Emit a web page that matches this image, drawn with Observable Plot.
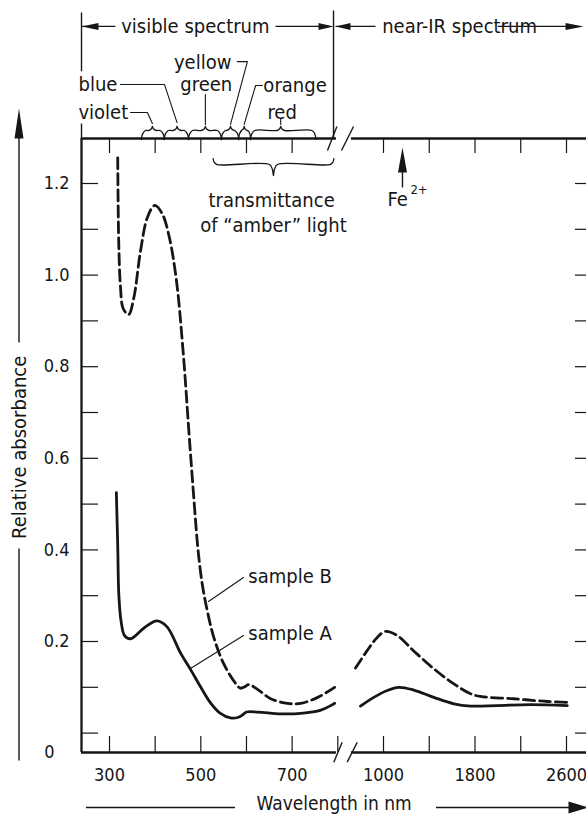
<!DOCTYPE html>
<html><head><meta charset="utf-8">
<script src="https://cdn.jsdelivr.net/npm/d3@7"></script>
<script src="https://cdn.jsdelivr.net/npm/@observablehq/plot@0.6"></script>
<style>
html,body{margin:0;padding:0;background:#fff;}
#chart{position:relative;width:586px;height:815px;overflow:hidden;background:#fff;}
#chart svg{position:absolute;left:0;top:0;}
</style></head><body><div id="chart"></div>
<script>
// ---------------- data (wavelength nm, relative absorbance) ----------------
const sampleAVisible = [[315,0.525],[318,0.41],[320.5,0.30],[325.5,0.243],[333,0.213],[346,0.206],[375,0.229],[404,0.245],[426,0.232],[456,0.174],[478,0.138],[500,0.100],[522,0.065],[543,0.043],[565,0.033],[581,0.034],[592,0.040],[600,0.046],[625,0.046],[675,0.042],[719,0.043],[763,0.050],[793,0.065]];
const sampleBVisible = [[318,1.256],[319,1.148],[320.5,1.061],[324,0.975],[330,0.927],[342,0.914],[353,0.949],[368,1.053],[383,1.126],[399,1.152],[415,1.135],[430,1.087],[446,0.993],[461,0.836],[476,0.629],[492,0.420],[495.6,0.384],[503,0.326],[514,0.268],[528.4,0.209],[550.3,0.151],[576,0.109],[587,0.098],[596,0.101],[605,0.106],[625,0.095],[653,0.075],[690,0.065],[719,0.065],[756,0.078],[793,0.100]];
const sampleANearIR = [[799,0.059],[915,0.078],[1032,0.093],[1134,0.100],[1265,0.094],[1440,0.078],[1615,0.064],[1761,0.059],[1994,0.060],[2285,0.062],[2606,0.060]];
const sampleBNearIR = [[755,0.142],[857,0.180],[945,0.209],[1017,0.222],[1120,0.213],[1262,0.180],[1437,0.141],[1612,0.108],[1761,0.086],[1848,0.080],[2137,0.075],[2434,0.069],[2635,0.067]];

const yTicks = [0,0.1,0.2,0.3,0.4,0.5,0.6,0.7,0.8,0.9,1.0,1.1,1.2];
const yTickLabels = [0.2,0.4,0.6,0.8,1.0,1.2];
const visTicksBottom = [300,400,500,600,700,800];
const visTicksTop = [300,400,500,600,700];
const visTickLabels = [300,500,700];
const nirTicks = [1000,1400,1800,2200,2600];
const nirTickLabels = [1000,1800,2600];

const bandNames = ["violet","blue","green","yellow","orange","red"];
const bandEdges = [370,420,473,545,583,609,752];
const bandTips  = [394,448,510,565,595,675];
const amberBand = {from: 527, to: 791.5, tip: 659};
const feBand = 1166;

// ---------------- scales / layout ----------------
const INK = "#161616";
const FONT = "'DejaVu Sans Condensed','DejaVu Sans',sans-serif";
const W = 586, H = 815, MT = 138, MB = 63, ML = 81, MR = 0;
const plotW = W - ML - MR, plotH = H - MT - MB;
const yScale = {domain: [0, 1.2], range: [732.6, 183], axis: null};
const KY = 1.2 / (732.6 - 183);          // absorbance per px
const KX = (800 - 300) / (337.3 - 109);  // nm per px (visible panel)
const yTop = (732.6 - MT) * KY, yBottom = (732.6 - (H - MB)) * KY;
const xLeft = 300 - (109 - ML) * KX;
const common = {width: W, height: H, marginTop: MT, marginBottom: MB, marginLeft: ML, marginRight: MR,
  y: yScale, style: {fontFamily: FONT, fontSize: "20px", background: "transparent", color: INK}};

const head = (L, Wd) => ({draw(ctx) { ctx.moveTo(0, 0); ctx.lineTo(Wd / 2, L); ctx.lineTo(-Wd / 2, L); ctx.closePath(); }});
const arrowHead = (x, y, rotate, L, Wd) => Plot.dot([0], {x: () => x, y: () => y, symbol: head(L, Wd), rotate, fill: INK, stroke: "none"});

function bracePoints(id, x0, x1, xm, yb, dir, h1, h2) {
  const kx = KX, ky = KY * dir;
  const r = Math.min(4, (xm - x0) / kx / 2, (x1 - xm) / kx / 2);
  return [
    [x0, yb], [x0 + 0.25 * r * kx, yb + 0.6 * h1 * ky], [x0 + r * kx, yb + h1 * ky],
    [xm - r * kx, yb + h1 * ky], [xm - 0.25 * r * kx, yb + (h1 + 0.45 * h2) * ky], [xm, yb + (h1 + h2) * ky],
    [xm + 0.25 * r * kx, yb + (h1 + 0.45 * h2) * ky], [xm + r * kx, yb + h1 * ky],
    [x1 - r * kx, yb + h1 * ky], [x1 - 0.25 * r * kx, yb + 0.6 * h1 * ky], [x1, yb]
  ].map(([x, y]) => ({id, x, y}));
}
const braces = bandNames.flatMap((n, i) => bracePoints(n, bandEdges[i], bandEdges[i + 1], bandTips[i], yTop - 1 * KY, 1, 9, 4))
  .concat(bracePoints("amber", amberBand.from, amberBand.to, amberBand.tip, 1.2545, -1, 6, 11));

// annotation placement (data units)
const leaders = [
  {id: "violet", pts: [[346,1.355],[383,1.355],[bandTips[0],1.331]]},
  {id: "blue",   pts: [[324,1.416],[420.5,1.416],[bandTips[1],1.333]]},
  {id: "green",  pts: [[bandTips[2],1.394],[bandTips[2],1.329]]},
  {id: "yellow", pts: [[580,1.466],[602,1.466],[bandTips[3],1.329]]},
  {id: "orange", pts: [[635,1.414],[620,1.414],[bandTips[4],1.329]]},
  {id: "red",    pts: [[bandTips[5],1.342],[bandTips[5],1.329]]},
  {id: "sB",     pts: [[593.5,0.3397],[516.8,0.2873]]},
  {id: "sA",     pts: [[593.5,0.2131],[477.4,0.1410]]}
].flatMap(d => d.pts.map(([x, y]) => ({id: d.id, x, y})));

const labelsMid = [
  {t: "visible spectrum", x: 488, y: 1.543},
  {t: "yellow", x: 504, y: 1.464},
  {t: "green", x: 512, y: 1.416},
  {t: "red", x: 678, y: 1.355},
  {t: "transmittance", x: 655, y: 1.163},
  {t: "of \u201camber\u201d light", x: 659, y: 1.108}
];
const labelsStart = [
  {t: "blue", x: 232, y: 1.416},
  {t: "violet", x: 232, y: 1.355},
  {t: "orange", x: 637, y: 1.414},
  {t: "sample B", x: 604, y: 0.342},
  {t: "sample A", x: 604, y: 0.218}
];
const stemsA = [
  {x1: xLeft, y1: 1.543, x2: 313, y2: 1.543},
  {x1: 663.6, y1: 1.543, x2: 782, y2: 1.543},
  {x1: xLeft, y1: 1.5734, x2: xLeft, y2: 1.445},
  {x1: xLeft, y1: 1.331, x2: xLeft, y2: yTop},
  {x1: 790.6, y1: 1.5777, x2: 790.6, y2: yTop},
  {x1: 248.5, y1: -0.1624, x2: 575, y2: -0.1624},
  {x1: 1015, y1: -0.1624, x2: 1320, y2: -0.1624},
  {x1: 101.8, y1: 0.853, x2: 101.8, y2: 1.31},
  {x1: 101.8, y1: 0.403, x2: 101.8, y2: -0.0598}
];
const slashesA = [{x1: 777.4, y1: 1.2721, x2: 798, y2: 1.3245}, {x1: 791.2, y1: -0.0635, x2: 809.6, y2: -0.0199}];
const stemsB = [
  {x1: 580.5, y1: 1.543, x2: 930, y2: 1.543},
  {x1: 1999, y1: 1.543, x2: 2700, y2: 1.543},
  {x1: feBand, y1: 1.229, x2: feBand, y2: 1.1913}
];
const slashesB = [{x1: 633, y1: 1.2721, x2: 737.9, y2: 1.3245}, {x1: 682.8, y1: -0.0635, x2: 770.3, y2: -0.0199}];

const lineOpts = {x: d => d[0], y: d => d[1], stroke: INK, strokeWidth: 2.8, curve: "catmull-rom", strokeLinejoin: "round"};
const fmt = d3.format(".1f");

// ---------------- visible panel ----------------
const plotA = Plot.plot({
  ...common,
  style: {...common.style, background: "#fff"},
  x: {domain: [300, 800], range: [109, 337.3], axis: null},
  marks: [
    Plot.ruleX([xLeft], {y1: yBottom, y2: yTop, stroke: INK, strokeWidth: 2.3}),
    Plot.ruleY([yTop, yBottom], {x1: xLeft, x2: 797, stroke: INK, strokeWidth: 2.3}),
    Plot.link(slashesA, {x1: "x1", y1: "y1", x2: "x2", y2: "y2", stroke: INK, strokeWidth: 1.4}),
    Plot.tickX(visTicksBottom, {x: d => d, insetTop: plotH - 16, stroke: INK, strokeWidth: 1.2}),
    Plot.tickX(visTicksTop, {x: d => d, insetBottom: plotH - 15, stroke: INK, strokeWidth: 1.2}),
    Plot.tickY(yTicks, {y: d => d, insetRight: plotW - 17, stroke: INK, strokeWidth: 1.2}),
    Plot.text(yTickLabels, {x: () => xLeft, y: d => d, text: d => fmt(d), dx: -12, textAnchor: "end", fontSize: 18, fill: INK}),
    Plot.text(["0"], {x: () => xLeft, y: () => yBottom, text: d => d, dx: -27, textAnchor: "end", fontSize: 18, fill: INK}),
    Plot.text(visTickLabels, {x: d => d, y: () => yBottom, text: d => String(d), dy: 23, fontSize: 18, fill: INK}),
    Plot.line(sampleAVisible, lineOpts),
    Plot.line(sampleBVisible, {...lineOpts, strokeDasharray: "11,5"}),
    Plot.line(braces, {x: "x", y: "y", z: "id", stroke: INK, strokeWidth: 1.3, curve: "catmull-rom"}),
    Plot.line(leaders, {x: "x", y: "y", z: "id", stroke: INK, strokeWidth: 1.1}),
    Plot.link(stemsA, {x1: "x1", y1: "y1", x2: "x2", y2: "y2", stroke: INK, strokeWidth: 1.4}),
    arrowHead(xLeft, 1.543, 270, 17, 7),
    arrowHead(790.6, 1.543, 90, 15, 7),
    arrowHead(101.8, 1.3638, 0, 30, 9),
    arrowHead(1349, -0.1624, 90, 20, 12),
    Plot.text(labelsMid, {x: "x", y: "y", text: "t", fill: INK, fontSize: 20}),
    Plot.text(labelsStart, {x: "x", y: "y", text: "t", textAnchor: "start", fill: INK, fontSize: 20}),
    Plot.text(["Wavelength in nm"], {x: () => 792, y: () => -0.1624, text: d => d, dy: -4, fill: INK, fontSize: 19}),
    Plot.text(["Relative absorbance"], {x: () => 102.5, y: () => 0.624, text: d => d, rotate: -90, fill: INK, fontSize: 20})
  ]
});

// ---------------- near-IR panel (overlay) ----------------
const plotB = Plot.plot({
  ...common,
  x: {domain: [1000, 2600], range: [383, 566], axis: null},
  marks: [
    Plot.ruleY([yTop, yBottom], {x1: 720, x2: 2900, stroke: INK, strokeWidth: 2.3}),
    Plot.link(slashesB, {x1: "x1", y1: "y1", x2: "x2", y2: "y2", stroke: INK, strokeWidth: 1.4}),
    Plot.tickX(nirTicks, {x: d => d, insetTop: plotH - 16, stroke: INK, strokeWidth: 1.2}),
    Plot.tickX(nirTicks, {x: d => d, insetBottom: plotH - 15, stroke: INK, strokeWidth: 1.2}),
    Plot.tickY(yTicks, {y: d => d, insetLeft: 575 - ML, stroke: INK, strokeWidth: 1.2}),
    Plot.text(nirTickLabels, {x: d => d, y: () => yBottom, text: d => String(d), dy: 23, fontSize: 18, fill: INK}),
    Plot.line(sampleANearIR, lineOpts),
    Plot.line(sampleBNearIR, {...lineOpts, strokeDasharray: "11,5"}),
    Plot.link(stemsB, {x1: "x1", y1: "y1", x2: "x2", y2: "y2", stroke: INK, strokeWidth: 1.4}),
    arrowHead(580.5, 1.543, 270, 15, 7),
    arrowHead(2749, 1.543, 90, 18, 7),
    arrowHead(feBand, 1.2786, 0, 25, 9),
    Plot.text(["near-IR spectrum"], {x: () => 1665, y: () => 1.543, text: d => d, fill: INK, fontSize: 20}),
    Plot.text(["Fe"], {x: () => 1034, y: () => 1.165, text: d => d, textAnchor: "start", fill: INK, fontSize: 20}),
    Plot.text(["2+"], {x: () => 1034, y: () => 1.165, text: d => d, dx: 23, dy: -10, textAnchor: "start", fill: INK, fontSize: 13})
  ]
});

const el = document.getElementById("chart");
el.appendChild(plotA);
el.appendChild(plotB);
</script>
</body></html>
